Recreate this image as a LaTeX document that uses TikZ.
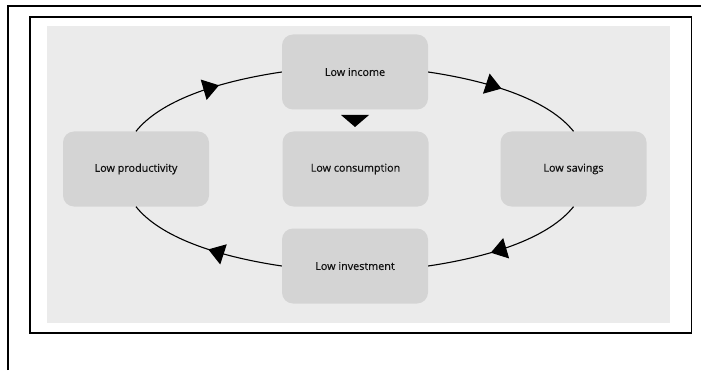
\documentclass[tikz,border=0pt]{standalone}
\usepackage{fontspec}
\setmainfont{Open Sans}
\usetikzlibrary{arrows.meta,decorations.markings}
\definecolor{bgray}{HTML}{EBEBEB}
\definecolor{boxgray}{HTML}{D4D4D4}
\definecolor{txt}{HTML}{111111}
\tikzset{
  cbox/.style={rectangle, rounded corners=11pt, fill=boxgray, draw=none,
    minimum width=146pt, minimum height=75pt, inner sep=0pt,
    font=\fontsize{10.8pt}{12pt}\selectfont\addfontfeature{FakeBold=0.6}, text=txt},
  flowline/.style={line width=1.1pt, black},
  tipA/.style={decoration={markings, mark=at position #1 with {\arrow{Triangle[length=16pt,width=21pt]}}}, postaction={decorate}},
  frameline/.style={line width=1.8pt, black}
}
\begin{document}
\begin{tikzpicture}[x=1pt,y=1pt]
\useasboundingbox (0,0) rectangle (701,370);
% outer frame (top and left edges)
\draw[frameline] (8,0) -- (8,364) -- (701,364);
% inner frame
\draw[frameline] (30,37) rectangle (691.5,353.3);
% grey background
\fill[bgray] (47,47) rectangle (670,344);
% boxes
\node[cbox] (inc)  at (355,298)   {Low income};
\node[cbox] (prod) at (136,201)   {Low productivity};
\node[cbox] (cons) at (355.5,201) {Low consumption};
\node[cbox] (sav)  at (573.5,201) {Low savings};
\node[cbox] (inv)  at (355,104)   {Low investment};
% connectors around the ellipse
\draw[flowline, tipA=0.6]  (prod.north) .. controls +(24,30) and +(-67,-10) .. (inc.west);
\draw[flowline, tipA=0.47] (inc.east) .. controls +(67,-10) and +(-24,30) .. (sav.north);
\draw[flowline, tipA=0.6]  (sav.south) .. controls +(-24,-30) and +(67,10) .. (inv.east);
\draw[flowline, tipA=0.47] (inv.west) .. controls +(-67,10) and +(24,-30) .. (prod.south);
% triangle from income to consumption
\fill[black] (341,255) -- (369,255) -- (355,243) -- cycle;
\end{tikzpicture}
\end{document}
